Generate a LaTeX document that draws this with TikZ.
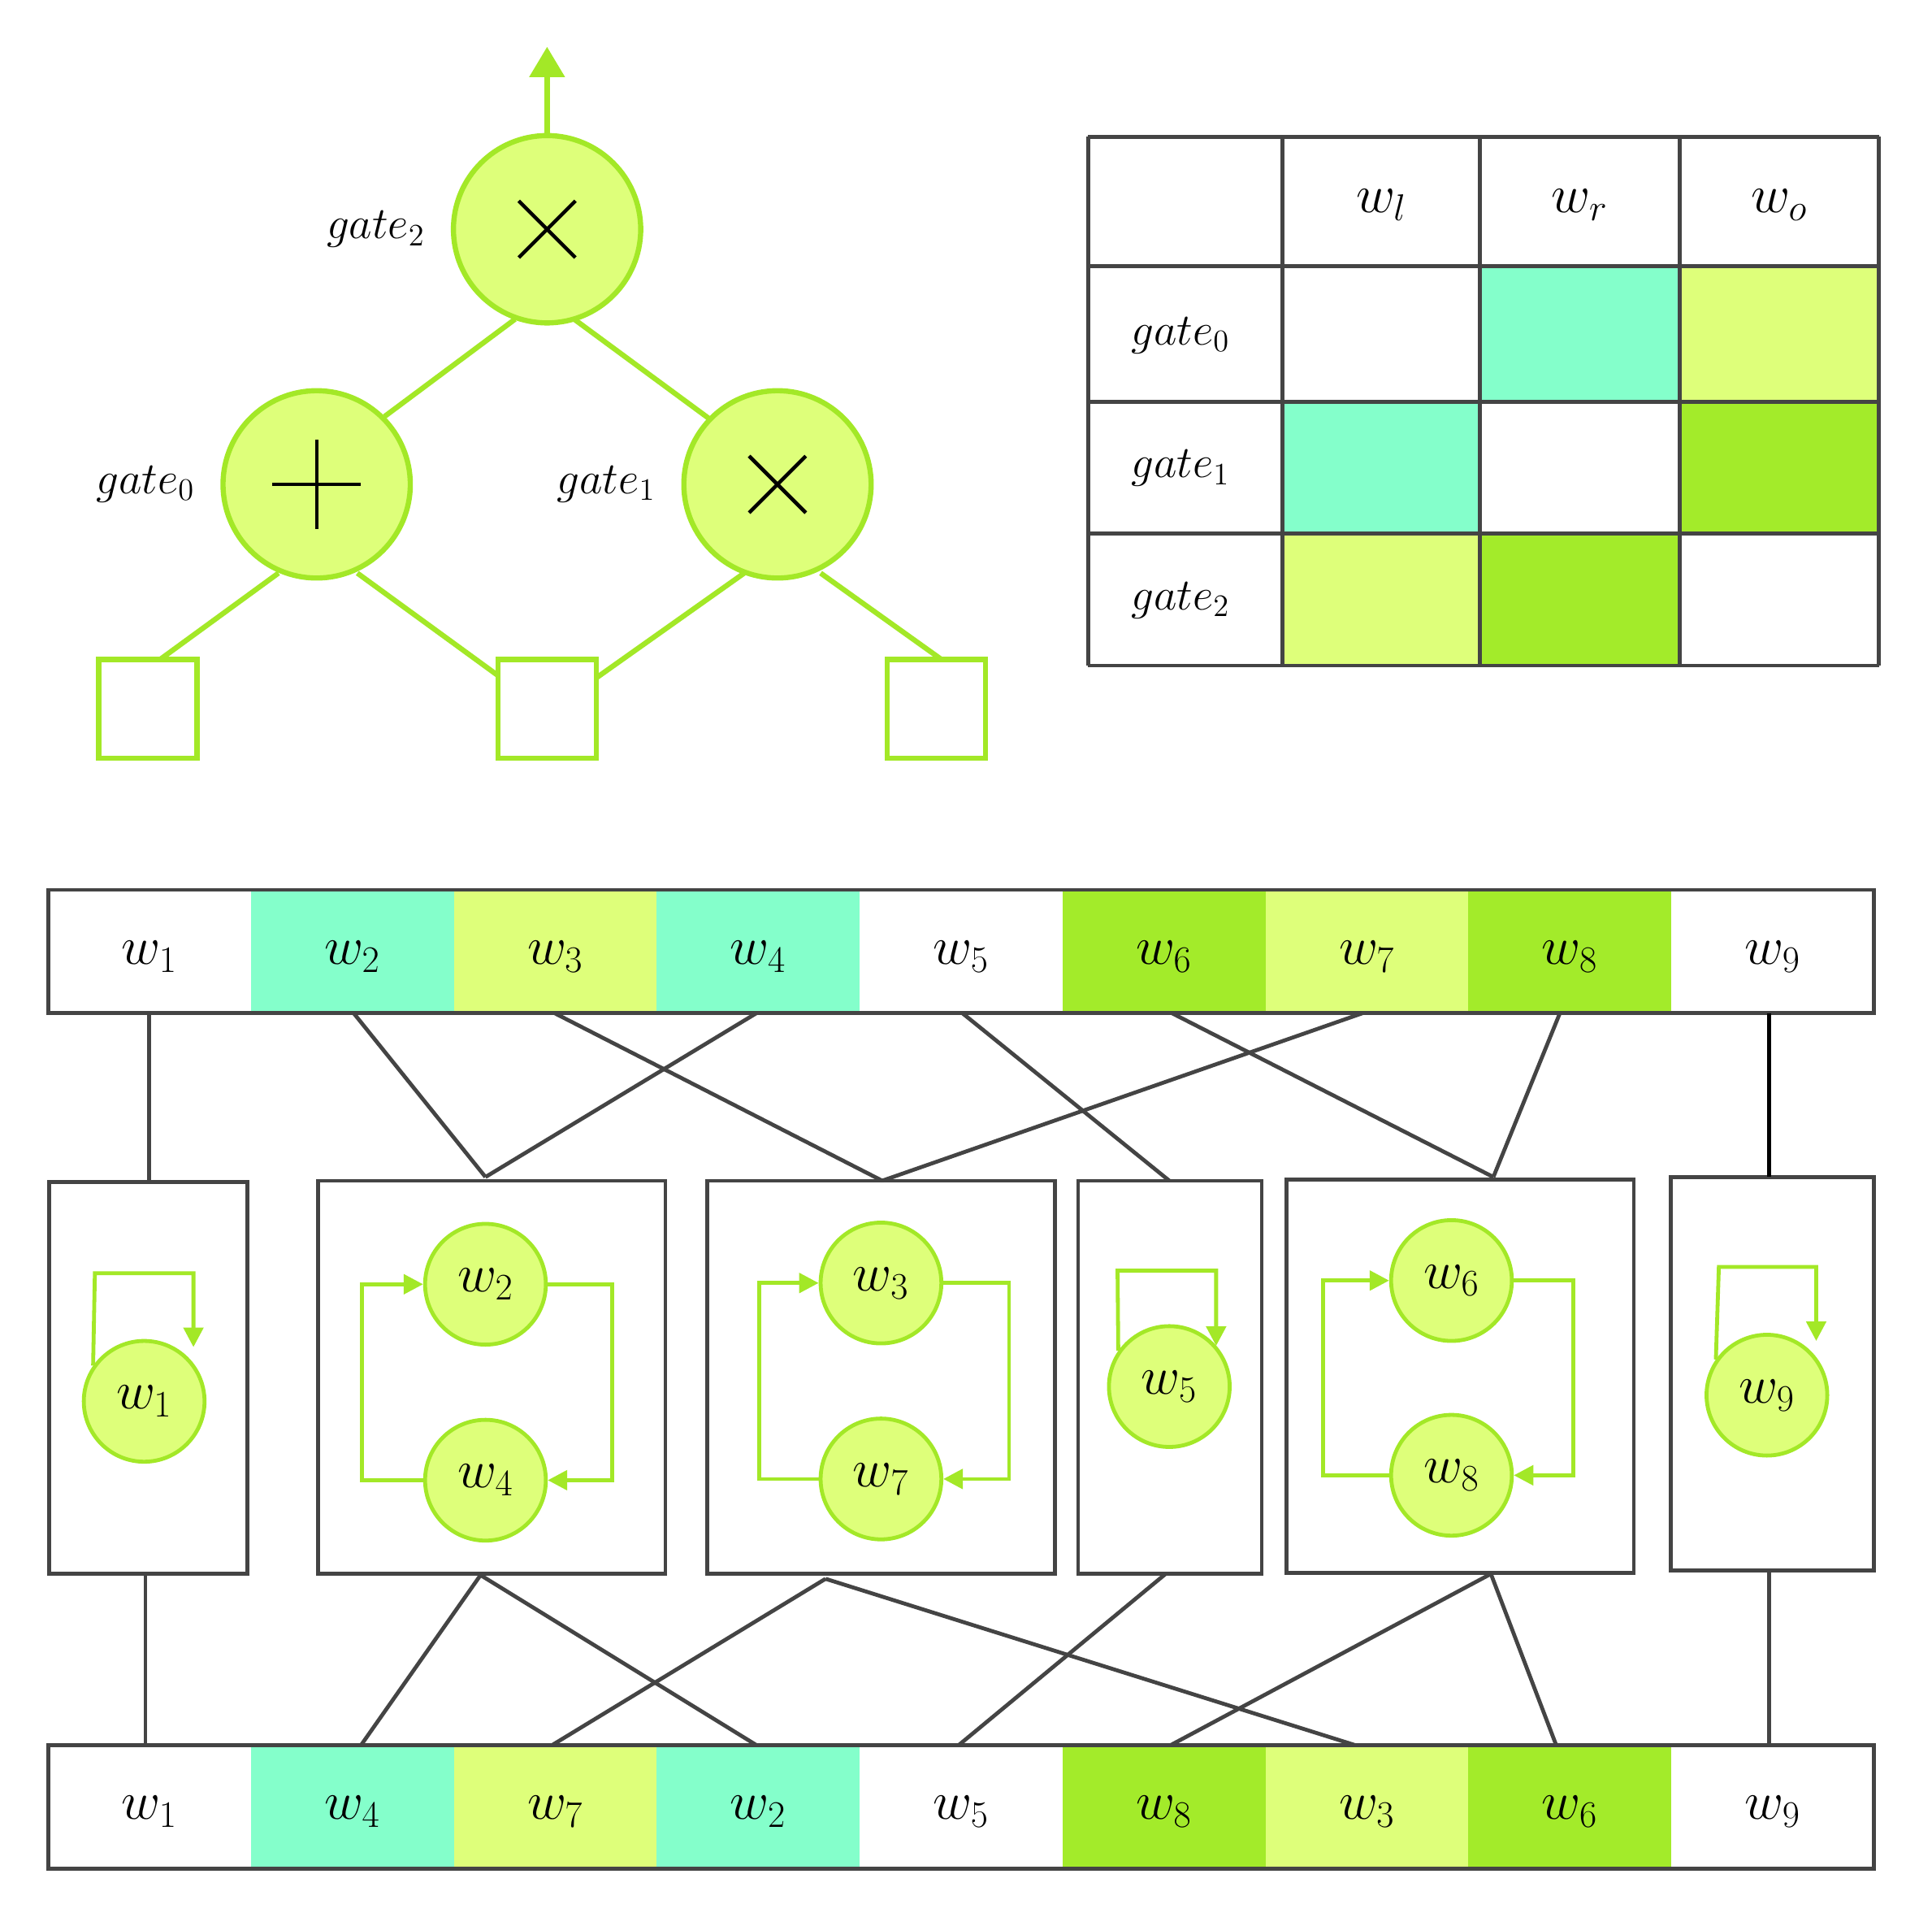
\documentclass[tikz,border=0pt]{standalone}
\usepackage{tikz}
\usetikzlibrary{arrows.meta}
\definecolor{lg}{HTML}{DEFF7A}
\definecolor{gb}{HTML}{A3E827}
\definecolor{tl}{HTML}{84FFCB}
\definecolor{sg}{HTML}{A3EB2A}
\definecolor{gr}{HTML}{444444}
\begin{document}
\begin{tikzpicture}[x=0.02cm,y=-0.02cm,
 gate/.style={circle,draw=gb,fill=lg,line width=2.4pt,minimum size=152*0.02cm,inner sep=0},
 leaf/.style={draw=gb,line width=2.4pt,minimum size=80*0.02cm,inner sep=0},
 gl/.style={draw=gb,line width=2.4pt},
 wc/.style={circle,draw=gb,fill=lg,line width=1.8pt,minimum size=98*0.02cm,inner sep=0,font=\fontsize{24}{28}\selectfont},
 box/.style={draw=gr,line width=1.8pt},
 gline/.style={draw=gr,line width=1.8pt},
 loop/.style={draw=gb,line width=1.8pt,-{Triangle[length=9pt,width=9pt]}},
 cell/.style={draw=gr,line width=1.8pt},
 lab/.style={font=\fontsize{22}{26}\selectfont},
 wl/.style={font=\fontsize{26}{30}\selectfont}]
\useasboundingbox (0,0) rectangle (1568,1552);
% tree
\node[gate] (g2) at (444,186) {};
\node[gate] (g0) at (257,393) {};
\node[gate] (g1) at (631,393) {};
\draw[line width=1.7pt] (421,163)--(467,209) (421,209)--(467,163);
\draw[line width=1.7pt] (608,370)--(654,416) (608,416)--(654,370);
\draw[line width=1.7pt] (221,393)--(293,393) (257,357)--(257,429);
\node[leaf] (s0) at (120,575) {};
\node[leaf] (s1) at (444,575) {};
\node[leaf] (s2) at (760,575) {};
\coordinate (top) at (444,38);
\draw[gl,-{Triangle[length=14pt,width=16pt]}] (g2.north)--(top);
\coordinate (e1) at (418,259); \coordinate (e2) at (312,338);
\coordinate (e3) at (466,259); \coordinate (e4) at (576,340);
\coordinate (e5) at (226,465); \coordinate (e6) at (130,535);
\coordinate (e7) at (290,465); \coordinate (e8) at (404,548);
\coordinate (e9) at (604,465); \coordinate (e10) at (484,550);
\coordinate (e11) at (666,465); \coordinate (e12) at (764,535);
\draw[gl] (e1)--(e2) (e3)--(e4) (e5)--(e6) (e7)--(e8) (e9)--(e10) (e11)--(e12);
\node[lab] (lg2) at (305,186) {$gate_2$};
\node[lab] (lg0) at (118,393) {$gate_0$};
\node[lab] (lg1) at (492,393) {$gate_1$};
% table
\fill[tl] (1201,216) rectangle (1363,326);
\fill[lg] (1363,216) rectangle (1525,326);
\fill[tl] (1041,326) rectangle (1201,433);
\fill[sg] (1363,326) rectangle (1525,433);
\fill[lg] (1041,433) rectangle (1201,540);
\fill[sg] (1201,433) rectangle (1363,540);
\foreach \x in {883,1041,1201,1363,1525} \draw[cell] (\x,111)--(\x,540);
\foreach \y in {111,216,326,433,540} \draw[cell] (883,\y)--(1525,\y);
\node[wl] (hl) at (1121,166) {$w_l$};
\node[wl] (hr) at (1282,166) {$w_r$};
\node[wl] (ho) at (1444,166) {$w_o$};
\node[lab] (r0) at (958,272) {$gate_0$};
\node[lab] (r1) at (958,380) {$gate_1$};
\node[lab] (r2) at (958,487) {$gate_2$};
% arrays
\def\cw{164.67}
\foreach \i/\c/\lbl in {0/white/1,1/tl/2,2/lg/3,3/tl/4,4/white/5,5/sg/6,6/lg/7,7/sg/8,8/white/9}{
 \fill[\c] (39+\i*\cw,722) rectangle (39+\i*\cw+\cw,822);
 \node[wl] (t\lbl) at (39+\i*\cw+0.5*\cw,776) {$w_\lbl$};}
\foreach \i/\c/\lbl in {0/white/1,1/tl/4,2/lg/7,3/tl/2,4/white/5,5/sg/8,6/lg/3,7/sg/6,8/white/9}{
 \fill[\c] (39+\i*\cw,1416) rectangle (39+\i*\cw+\cw,1516);
 \node[wl] (b\lbl) at (39+\i*\cw+0.5*\cw,1470) {$w_\lbl$};}
\draw[box] (39,722) rectangle (1521,822);
\draw[box] (39,1416) rectangle (1521,1516);
% middle boxes
\draw[box] (40,959) rectangle (201,1277);
\draw[box] (258,958) rectangle (540,1277);
\draw[box] (574,958) rectangle (856,1277);
\draw[box] (875,958) rectangle (1024,1277);
\draw[box] (1044,957) rectangle (1326,1276);
\draw[box] (1356,955) rectangle (1521,1274);
\node[wc] (c1) at (117,1137) {$w_1$};
\node[wc] (c2) at (394,1042) {$w_2$};
\node[wc] (c4) at (394,1201) {$w_4$};
\node[wc] (c3) at (715,1041) {$w_3$};
\node[wc] (c7) at (715,1200) {$w_7$};
\node[wc] (c5) at (949,1125) {$w_5$};
\node[wc] (c6) at (1178,1039) {$w_6$};
\node[wc] (c8) at (1178,1197) {$w_8$};
\node[wc] (c9) at (1434,1132) {$w_9$};
% self loops
\draw[loop] (c1.145)--(77,1033)--(157,1033)--(157,1093);
\draw[loop] (c5.145)--(907,1031)--(987,1031)--(987,1092);
\draw[loop] (c9.145)--(1395,1028)--(1474,1028)--(1474,1088);
% pair loops
\draw[loop] (c4.west)--(294,1201)--(294,1042)--(c2.west);
\draw[loop] (c2.east)--(497,1042)--(497,1201)--(c4.east);
\draw[loop] (c7.west)--(616,1200)--(616,1041)--(c3.west);
\draw[loop] (c3.east)--(819,1041)--(819,1200)--(c7.east);
\draw[loop] (c8.west)--(1074,1197)--(1074,1039)--(c6.west);
\draw[loop] (c6.east)--(1277,1039)--(1277,1197)--(c8.east);
% connections top
\coordinate (A1) at (121,959); \coordinate (A2) at (394,955); \coordinate (A3) at (716,958);
\coordinate (A4) at (949,958); \coordinate (A5) at (1212,955); \coordinate (A6) at (1436,955);
\draw[gline] (121,822)--(A1);
\draw[gline] (287,822)--(A2); \draw[gline] (614,822)--(A2);
\draw[gline] (450,822)--(A3); \draw[gline] (1106,822)--(A3);
\draw[gline] (781,822)--(A4);
\draw[gline] (951,822)--(A5); \draw[gline] (1266,822)--(A5);
\draw[line width=1.8pt,black] (1436,822)--(A6);
% connections bottom
\coordinate (B1) at (118,1277); \coordinate (B2) at (390,1278); \coordinate (B3) at (670,1281);
\coordinate (B4) at (946,1277); \coordinate (B5) at (1210,1277); \coordinate (B6) at (1436,1274);
\draw[gline] (B1)--(118,1416);
\draw[gline] (B2)--(293,1416); \draw[gline] (B2)--(614,1416);
\draw[gline] (B3)--(448,1416); \draw[gline] (B3)--(1100,1416);
\draw[gline] (B4)--(778,1416);
\draw[gline] (B5)--(950,1416); \draw[gline] (B5)--(1263,1416);
\draw[gline] (B6)--(1436,1416);
\end{tikzpicture}
\end{document}
